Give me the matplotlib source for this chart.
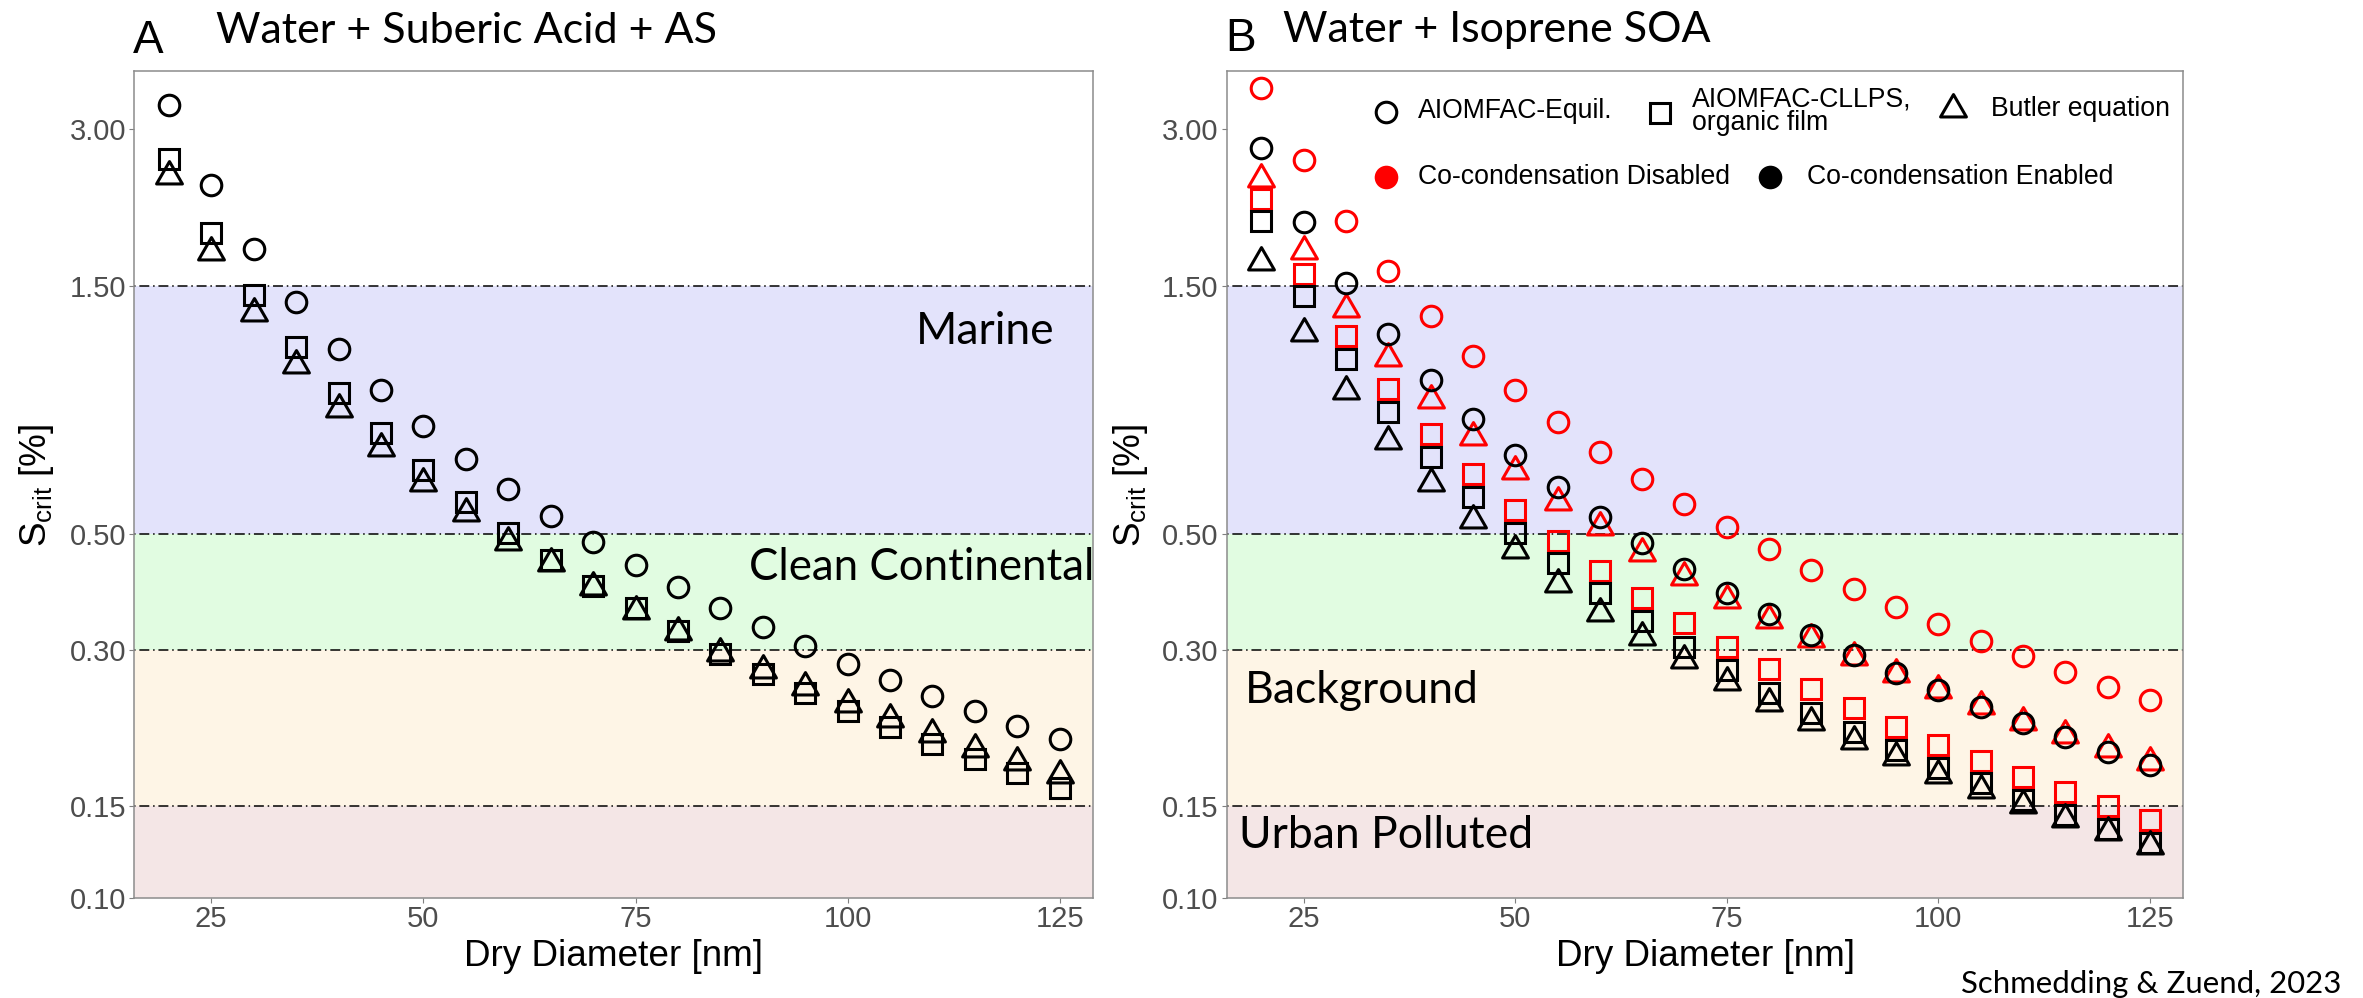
import matplotlib
matplotlib.use("Agg")
import matplotlib.pyplot as plt
from matplotlib.path import Path
from matplotlib.ticker import NullLocator

# dry diameter [nm]
diameter = [20, 25, 30, 35, 40, 45, 50, 55, 60, 65, 70,
            75, 80, 85, 90, 95, 100, 105, 110, 115, 120, 125]

# Panel A: Water + Suberic Acid + AS, S_crit [%]
a_equil = [3.33, 2.345, 1.766, 1.396, 1.135, 0.947, 0.806, 0.698, 0.611, 0.542, 0.483,
           0.436, 0.396, 0.361, 0.331, 0.305, 0.282, 0.2625, 0.2446, 0.2289, 0.2142, 0.202]
a_cllps = [2.62, 1.89, 1.44, 1.144, 0.933, 0.782, 0.665, 0.575, 0.503, 0.446, 0.397,
           0.361, 0.325, 0.294, 0.269, 0.248, 0.229, 0.2126, 0.198, 0.185, 0.1739, 0.1628]
a_butler = [2.44, 1.74, 1.33, 1.054, 0.870, 0.732, 0.628, 0.548, 0.483, 0.440, 0.395,
            0.356, 0.324, 0.296, 0.2735, 0.254, 0.236, 0.2206, 0.2064, 0.1936, 0.1827, 0.1724]

# Panel B: Water + Isoprene SOA, co-condensation disabled (red) / enabled (black)
b_equil_off = [3.60, 2.61, 2.00, 1.60, 1.31, 1.10, 0.944, 0.819, 0.719, 0.638, 0.571,
               0.516, 0.468, 0.427, 0.392, 0.362, 0.336, 0.312, 0.291, 0.272, 0.2547, 0.240]
b_cllps_off = [2.20, 1.58, 1.20, 0.95, 0.778, 0.652, 0.557, 0.484, 0.425, 0.377, 0.337,
               0.303, 0.275, 0.2515, 0.2316, 0.2127, 0.197, 0.1829, 0.171, 0.160, 0.150, 0.141]
b_butler_off = [2.40, 1.75, 1.35, 1.09, 0.906, 0.768, 0.660, 0.577, 0.516, 0.459, 0.413,
                0.373, 0.342, 0.314, 0.290, 0.269, 0.251, 0.2338, 0.218, 0.2055, 0.1929, 0.1826]
b_equil_on = [2.76, 1.99, 1.52, 1.21, 0.99, 0.832, 0.710, 0.616, 0.540, 0.480, 0.428,
              0.386, 0.351, 0.320, 0.293, 0.2704, 0.251, 0.2332, 0.217, 0.2037, 0.191, 0.1797]
b_cllps_on = [1.995, 1.43, 1.083, 0.859, 0.704, 0.590, 0.503, 0.440, 0.385, 0.341, 0.304,
              0.274, 0.248, 0.227, 0.2088, 0.1925, 0.178, 0.1662, 0.154, 0.1444, 0.1359, 0.1274]
b_butler_on = [1.668, 1.215, 0.94, 0.756, 0.627, 0.532, 0.465, 0.401, 0.353, 0.317, 0.286,
               0.260, 0.237, 0.218, 0.2006, 0.1864, 0.1724, 0.1611, 0.1506, 0.1419, 0.1336, 0.126]

# shaded regimes
band_lo = [0.10, 0.15, 0.30, 0.50]
band_hi = [0.15, 0.30, 0.50, 1.50]
band_colors = ['#F4E6E6', '#FEF5E6', '#E1FCE1', '#E3E3FB']
band_lines = [0.15, 0.30, 0.50, 1.50]

yticks = [0.10, 0.15, 0.30, 0.50, 1.50, 3.00]
ytick_labels = ['0.10', '0.15', '0.30', '0.50', '1.50', '3.00']
xticks = [25, 50, 75, 100, 125]

SANS = 'Liberation Sans'
HUM = 'Lato'
plt.rcParams['mathtext.fontset'] = 'custom'
plt.rcParams['mathtext.rm'] = SANS

W, H = 2363, 998
fig = plt.figure(figsize=(W / 100, H / 100), dpi=100)


def fx(px):
    return px / W


def fy(py):
    return 1 - py / H


# R-style triangle (centroid at data point)
TRI = Path([(0, 1.5551), (-1.3468, -0.7776), (1.3468, -0.7776), (0, 1.5551)],
           [Path.MOVETO, Path.LINETO, Path.LINETO, Path.CLOSEPOLY])
CIRC_MS = 14.8
SQ_MS = 14.5
TRI_MS = 21.5
MEW = 2.2


def setup(ax, x_label_px, y_label_px):
    for lo, hi, c in zip(band_lo, band_hi, band_colors):
        ax.axhspan(lo, hi, color=c, lw=0, zorder=0)
    for y in band_lines:
        ax.axhline(y, color='black', lw=1.1, dashes=(1, 2.5, 6.5, 2.5), zorder=1)
    ax.set_yscale('log')
    ax.set_ylim(0.1, 3.88)
    ax.set_xlim(15.9, 128.95)
    ax.set_yticks(yticks)
    ax.set_yticklabels(ytick_labels)
    ax.yaxis.set_minor_locator(NullLocator())
    ax.set_xticks(xticks)
    ax.tick_params(axis='both', length=3.6, width=0.8, color='#7F7F7F',
                   labelcolor='#4D4D4D', labelsize=21)
    ax.tick_params(axis='x', pad=1.5)
    ax.tick_params(axis='y', pad=2.2)
    for lab in ax.get_xticklabels() + ax.get_yticklabels():
        lab.set_family(SANS)
    for sp in ax.spines.values():
        sp.set_color('#8C8C8C')
        sp.set_linewidth(1.1)
    fig.text(fx(x_label_px), fy(966), 'Dry Diameter [nm]', ha='center', va='baseline',
             fontsize=26.6, family=SANS)
    fig.text(fx(y_label_px), fy(485), r'S$_{\mathregular{crit}}$ [%]', ha='center', va='center',
             rotation=90, fontsize=26.6, family=SANS)


def points(ax, y, marker, ms, color):
    ax.plot(diameter, y, ls='none', marker=marker, ms=ms, mfc='none', mec=color,
            mew=MEW, zorder=3)


axA = fig.add_axes([fx(134), fy(898), (1093.3 - 134) / W, (898 - 70.7) / H])
axB = fig.add_axes([fx(1226.7), fy(898), (2183.3 - 1226.7) / W, (898 - 70.7) / H])

setup(axA, 613.7, 37)
setup(axB, 1705, 1130)

# panel A
points(axA, a_equil, 'o', CIRC_MS, 'black')
points(axA, a_cllps, 's', SQ_MS, 'black')
points(axA, a_butler, TRI, TRI_MS, 'black')

# panel B: red first, black on top
points(axB, b_equil_off, 'o', CIRC_MS, 'red')
points(axB, b_cllps_off, 's', SQ_MS, 'red')
points(axB, b_butler_off, TRI, TRI_MS, 'red')
points(axB, b_equil_on, 'o', CIRC_MS, 'black')
points(axB, b_cllps_on, 's', SQ_MS, 'black')
points(axB, b_butler_on, TRI, TRI_MS, 'black')

# titles
fig.text(fx(133), fy(52.7), 'A', fontsize=33, family=SANS, va='baseline')
fig.text(fx(216), fy(42.7), 'Water + Suberic Acid + AS', fontsize=31, family=HUM, va='baseline')
fig.text(fx(1225), fy(51), 'B', fontsize=33, family=SANS, va='baseline')
fig.text(fx(1283), fy(42), 'Water + Isoprene SOA', fontsize=31, family=HUM, va='baseline')

# regime labels
fig.text(fx(1054), fy(343.7), 'Marine', fontsize=32, family=HUM, ha='right', va='baseline')
fig.text(fx(1094.7), fy(580.5), 'Clean Continental', fontsize=31.5, family=HUM, ha='right', va='baseline')
fig.text(fx(1244.4), fy(703.4), 'Background', fontsize=32, family=HUM, va='baseline')
fig.text(fx(1239), fy(847.9), 'Urban Polluted', fontsize=32, family=HUM, va='baseline')
fig.text(fx(2341.3), fy(993), 'Schmedding & Zuend, 2023', fontsize=22.4, family=HUM,
         ha='right', va='baseline')


# legend (panel B)
def leg_mark(x, y, marker, ms, color, filled=False):
    axB.plot([fx(x)], [fy(y)], transform=fig.transFigure, clip_on=False, ls='none',
             marker=marker, ms=ms, mec=color, mew=0 if filled else MEW,
             mfc=color if filled else 'none', zorder=5)


LEG_FS = 19.2


def leg_text(x, y, s, va='center'):
    fig.text(fx(x), fy(y), s, fontsize=LEG_FS, family=SANS, ha='left', va=va)


leg_mark(1385.7, 111.5, 'o', CIRC_MS, 'black')
leg_text(1417.7, 111.5, 'AIOMFAC-Equil.')
leg_mark(1659.8, 112.5, 's', SQ_MS, 'black')
leg_text(1692, 106, 'AIOMFAC-CLLPS,', va='baseline')
leg_text(1692, 130, 'organic film', va='baseline')
leg_mark(1953.3, 109, TRI, TRI_MS, 'black')
leg_text(1991, 108.5, 'Butler equation')
leg_mark(1385.7, 177, 'o', 17, 'red', filled=True)
leg_text(1417.7, 177, 'Co-condensation Disabled')
leg_mark(1770, 177, 'o', 17, 'black', filled=True)
leg_text(1806.7, 177, 'Co-condensation Enabled')

fig.savefig('out.png', dpi=100)
